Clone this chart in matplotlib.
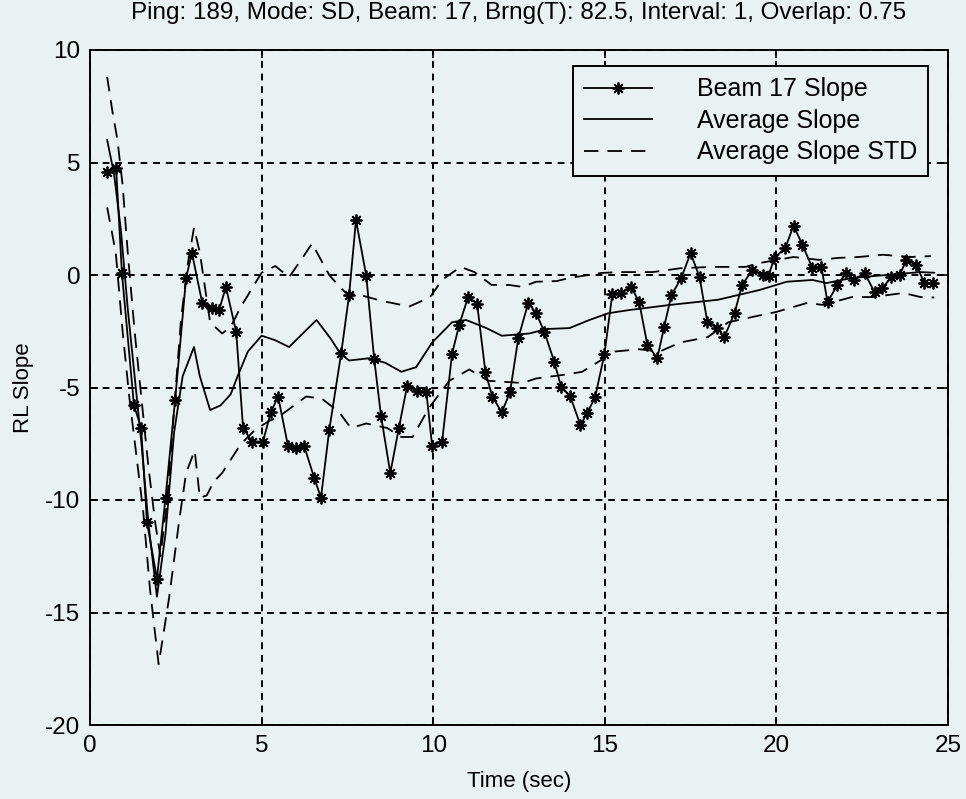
import matplotlib
matplotlib.use("Agg")
import matplotlib.pyplot as plt

plt.rcParams['font.family'] = ['Liberation Sans', 'DejaVu Sans']
plt.rcParams['axes.unicode_minus'] = False

# Beam 17 slope
t_beam = [0.50, 0.76, 0.93, 1.28, 1.49, 1.66, 1.95, 2.20, 2.48, 2.80, 2.97, 3.27, 3.56, 3.76, 3.96,
          4.26, 4.46, 4.72, 5.04, 5.27, 5.48, 5.77, 6.00, 6.24, 6.53, 6.73, 6.97, 7.32, 7.55, 7.75,
          8.05, 8.28, 8.48, 8.75, 9.00, 9.24, 9.53, 9.80, 9.97, 10.26, 10.55, 10.76, 11.02, 11.28,
          11.52, 11.72, 12.00, 12.24, 12.48, 12.77, 13.00, 13.24, 13.53, 13.73, 13.99, 14.29, 14.49,
          14.72, 14.99, 15.22, 15.48, 15.77, 16.00, 16.24, 16.53, 16.73, 16.94, 17.23, 17.50, 17.76,
          17.99, 18.28, 18.48, 18.78, 19.00, 19.30, 19.60, 19.77, 19.94, 20.26, 20.50, 20.76, 21.05,
          21.31, 21.49, 21.78, 22.04, 22.27, 22.57, 22.86, 23.09, 23.35, 23.59, 23.79, 24.08, 24.31,
          24.55]
v_beam = [4.58, 4.76, 0.09, -5.78, -6.8, -10.98, -13.5, -9.9, -5.56, -0.13, 0.98, -1.24, -1.47, -1.56, -0.53,
          -2.53, -6.8, -7.4, -7.4, -6.1, -5.4, -7.6, -7.7, -7.6, -9.0, -9.9, -6.9, -3.47, -0.89, 2.44,
          -0.04, -3.73, -6.27, -8.8, -6.8, -4.93, -5.15, -5.2, -7.6, -7.4, -3.5, -2.2, -0.97, -1.29,
          -4.3, -5.4, -6.1, -5.2, -2.8, -1.24, -1.7, -2.53, -3.87, -4.98, -5.38, -6.67, -6.13,
          -5.42, -3.51, -0.84, -0.8, -0.53, -1.2, -3.1, -3.7, -2.3, -0.9, -0.13, 0.98, -0.09,
          -2.1, -2.36, -2.76, -1.7, -0.44, 0.22, 0.0, -0.04, 0.76, 1.2, 2.2, 1.33, 0.31,
          0.36, -1.2, -0.44, 0.09, -0.22, 0.09, -0.76, -0.58, -0.09, 0.0, 0.67, 0.44, -0.36,
          -0.36]

# Average slope
t_avg = [0.5, 0.7, 0.9, 1.1, 1.3, 1.5, 1.7, 1.95, 2.2, 2.45, 2.7, 3.03, 3.2, 3.5, 3.8, 4.1, 4.3, 4.6,
         5.0, 5.4, 5.8, 6.2, 6.6, 7.0, 7.3, 7.55, 8.13, 8.6, 9.07, 9.5, 9.97, 10.55, 10.96, 11.55,
         12.0, 12.8, 13.3, 13.97, 14.55, 15.1, 15.7, 16.9, 18.3, 19.5, 20.3, 21.05, 21.46, 22.2,
         23.2, 24.2, 24.6]
v_avg = [6.0, 4.5, 2.0, -1.5, -4.5, -7.5, -11.0, -14.3, -11.5, -7.0, -4.5, -3.2, -4.5, -6.0, -5.8, -5.3, -4.5, -3.4,
         -2.7, -2.9, -3.2, -2.6, -2.0, -2.8, -3.5, -3.8, -3.7, -3.9, -4.3, -4.1, -3.0, -2.1, -2.0, -2.36,
         -2.7, -2.6, -2.4, -2.36, -2.0, -1.7, -1.56, -1.33, -1.1, -0.67, -0.3, -0.22, -0.36, -0.13,
         0.0, 0.13, 0.1]

# Average slope +/- STD
t_up = [0.5, 0.65, 0.8, 0.95, 1.1, 1.3, 1.5, 1.7, 1.9, 2.05, 2.25, 2.45, 2.65, 2.85, 3.03, 3.2, 3.5,
        3.85, 4.1, 4.4, 5.0, 5.4, 5.8, 6.15, 6.47, 6.97, 7.26, 7.46, 7.9, 8.5, 9.3, 9.9, 10.27, 10.8,
        11.2, 11.7, 12.2, 12.6, 13.0, 13.6, 13.97, 14.9, 15.4, 16.4, 17.2, 18.1, 19.1, 19.5, 20.5,
        21.25, 21.8, 22.4, 23.1, 23.9, 24.5]
v_up = [8.8, 7.3, 6.0, 4.0, 1.0, -2.5, -5.5, -8.5, -11.0, -12.5, -10.0, -6.0, -2.0, 0.5, 2.1, 1.0, -2.1,
        -2.6, -2.3, -1.4, 0.1, 0.4, -0.1, 0.67, 1.4, 0.0, -0.5, -0.8, -0.9, -1.15, -1.4, -1.0, -0.2, 0.36,
        0.13, -0.44, -0.44, -0.53, -0.3, -0.27, -0.13, 0.09, 0.13, 0.13, 0.3, 0.36, 0.36, 0.53, 0.8,
        0.67, 0.76, 0.8, 0.9, 0.8, 0.84]

t_low = [0.5, 0.75, 0.95, 1.15, 1.35, 1.55, 1.75, 2.0, 2.3, 2.6, 2.8, 3.05, 3.2, 3.4, 3.6, 3.85, 4.4,
         4.8, 5.2, 5.5, 6.3, 6.76, 7.26, 7.6, 8.05, 8.66, 9.07, 9.4, 9.88, 10.47, 11.05, 11.6, 12.6,
         13.0, 13.97, 14.34, 15.3, 16.0, 16.6, 17.2, 18.0, 18.6, 19.5, 20.0, 20.9, 21.35, 22.2, 22.8,
         23.7, 24.2, 24.6]
v_low = [3.0, 1.0, -2.5, -5.5, -8.0, -10.5, -14.0, -17.3, -14.4, -10.9, -8.8, -7.8, -9.9, -9.8, -9.2, -8.8, -7.5,
         -6.9, -6.5, -6.3, -5.4, -5.5, -6.1, -6.8, -6.6, -6.8, -7.2, -7.2, -5.9, -4.7, -4.2, -4.7, -4.8,
         -4.6, -4.4, -4.3, -3.4, -3.3, -3.4, -3.0, -2.76, -2.1, -1.8, -1.64, -1.24, -1.33, -0.98, -0.98,
         -0.8, -0.98, -1.0]

title = "Ping: 189, Mode: SD, Beam: 17, Brng(T): 82.5, Interval: 1, Overlap: 0.75"

bg = '#eaf1f2'
fig = plt.figure(figsize=(9.66, 7.99), dpi=100, facecolor=bg)
ax = fig.add_axes([90/966, 1-725/799, 858/966, 675/799], facecolor=bg)

dash = (0, (8, 5))
ax.plot(t_beam, v_beam, color='k', lw=1.3, marker=(8, 2, 0), ms=8.5, mew=1.3, label='Beam 17 Slope')
ax.plot(t_avg, v_avg, color='k', lw=1.3, label='Average Slope')
ax.plot(t_up, v_up, color='k', lw=1.3, ls=dash, label='Average Slope STD')
ax.plot(t_low, v_low, color='k', lw=1.3, ls=dash)

ax.set_xlim(0, 25)
ax.set_ylim(-20, 10)
ax.set_xticks([0, 5, 10, 15, 20, 25])
ax.set_yticks([-20, -15, -10, -5, 0, 5, 10])
ax.grid(True, color='k', ls=(0, (3.5, 3)), lw=1.4)
ax.tick_params(direction='in', top=True, right=True, length=6, width=1.2, labelsize=17.5, pad=7)
for s in ax.spines.values():
    s.set_linewidth(1.4)

ax.set_title(title, fontsize=17.5, pad=22)
ax.set_xlabel('Time (sec)', fontsize=16, labelpad=10)
ax.set_ylabel('RL Slope', fontsize=16, labelpad=8)

leg = ax.legend(loc='upper right', bbox_to_anchor=(0.977, 0.976), borderaxespad=0, fontsize=18,
                handlelength=2.7, handletextpad=1.8, labelspacing=0.3, borderpad=0.45, numpoints=1,
                fancybox=False, edgecolor='k', facecolor=bg, framealpha=1)
leg.get_frame().set_linewidth(1.4)

fig.savefig('out.png', dpi=100, facecolor=bg)
